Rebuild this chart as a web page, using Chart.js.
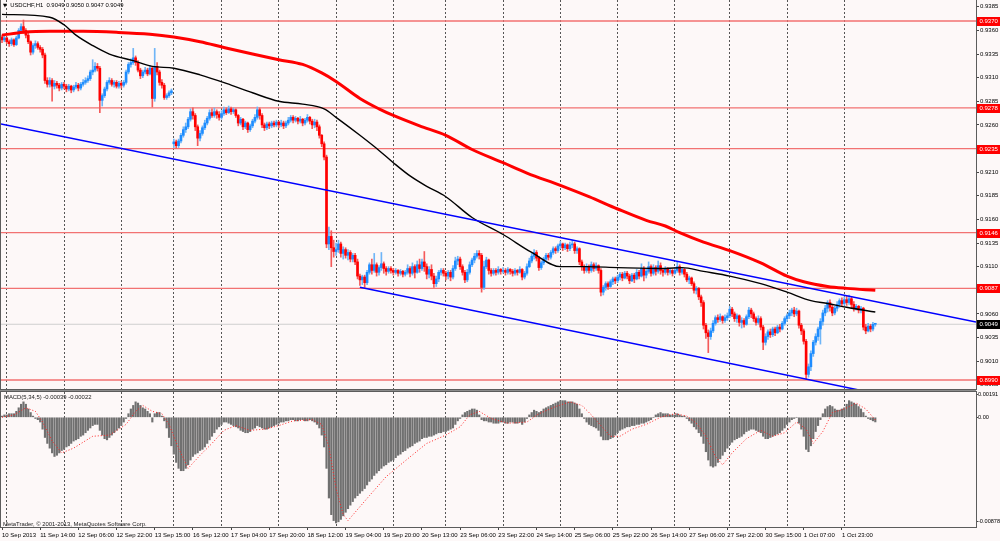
<!DOCTYPE html>
<html>
<head>
<meta charset="utf-8">
<script src="https://cdn.jsdelivr.net/npm/chart.js@4.4.0/dist/chart.umd.min.js"></script>
<style>
  body { margin: 0; background: #fdf8f8; width: 1000px; height: 541px; overflow: hidden; position: relative;
         font-family: "Liberation Sans", Arial, sans-serif; }
  #top { position: absolute; left: 0; top: 0; width: 1000px; height: 390px; }
  #bot { position: absolute; left: 0; top: 390px; width: 1000px; height: 151px; }
  .lbl { position: absolute; font-size: 5.9px; color: #000; white-space: pre; line-height: 8px; }
  .tri { font-family: "DejaVu Sans", sans-serif; font-size: 5px; }
</style>
</head>
<body>
<div id="top"><canvas id="priceChart"></canvas></div>
<div id="bot"><canvas id="macdChart"></canvas></div>
<div class="lbl" style="left:3px;top:1px"><span class="tri">▼</span>  USDCHF,H1  0.9049 0.9050 0.9047 0.9049</div>
<div class="lbl" style="left:4px;top:393px;color:#222">MACD(5,34,5) -0.00039 -0.00022</div>
<div class="lbl" style="left:3px;top:520px;color:#222">MetaTrader, © 2001-2013, MetaQuotes Software Corp.</div>
<script>
// USDCHF H1, 10 Sep 22:00 .. 2 Oct, one entry per bar
const closes = [
  .9350,.9352,.9348,.9346,.9350,.9345,.9352,.9360,.9364,.9360,
  .9355,.9348,.9337,.9344,.9346,.9342,.9340,.9334,.9307,.9303,
  .9307,.9301,.9304,.9302,.9299,.9303,.9301,.9298,.9301,.9297,
  .9300,.9302,.9299,.9303,.9305,.9307,.9309,.9316,.9318,.9322,
  .9320,.9286,.9291,.9298,.9305,.9307,.9303,.9305,.9301,.9304,
  .9302,.9305,.9316,.9324,.9326,.9331,.9326,.9318,.9312,.9316,
  .9318,.9314,.9320,.9288,.9322,.9316,.9305,.9302,.9289,.9291,
  .9294,.9296,.9242,.9238,.9243,.9249,.9255,.9258,.9266,.9274,
  .9270,.9258,.9246,.9251,.9257,.9262,.9267,.9273,.9270,.9274,
  .9271,.9268,.9272,.9276,.9273,.9277,.9274,.9276,.9270,.9262,
  .9266,.9258,.9262,.9255,.9259,.9264,.9268,.9276,.9270,.9260,
  .9257,.9261,.9259,.9262,.9260,.9263,.9260,.9262,.9259,.9262,
  .9265,.9268,.9265,.9267,.9264,.9266,.9262,.9265,.9268,.9264,
  .9260,.9263,.9258,.9249,.9240,.9226,.9134,.9142,.9130,.9126,
  .9128,.9134,.9124,.9128,.9122,.9125,.9118,.9122,.9115,.9100,
  .9096,.9099,.9093,.9104,.9112,.9106,.9112,.9104,.9109,.9113,
  .9108,.9105,.9108,.9106,.9104,.9106,.9103,.9105,.9102,.9104,
  .9108,.9103,.9110,.9104,.9112,.9108,.9115,.9110,.9102,.9107,
  .9100,.9092,.9097,.9104,.9106,.9103,.9100,.9104,.9099,.9108,
  .9116,.9118,.9110,.9104,.9096,.9104,.9112,.9117,.9121,.9124,
  .9122,.9088,.9110,.9117,.9106,.9103,.9106,.9104,.9107,.9105,
  .9106,.9104,.9107,.9105,.9103,.9106,.9104,.9107,.9099,.9103,
  .9110,.9116,.9121,.9125,.9119,.9109,.9114,.9118,.9122,.9120,
  .9125,.9129,.9127,.9132,.9134,.9130,.9133,.9129,.9133,.9134,
  .9127,.9129,.9115,.9110,.9106,.9110,.9106,.9112,.9108,.9111,
  .9106,.9083,.9088,.9092,.9089,.9094,.9097,.9095,.9099,.9102,
  .9098,.9103,.9100,.9095,.9101,.9097,.9104,.9100,.9108,.9101,
  .9105,.9110,.9103,.9109,.9105,.9111,.9106,.9104,.9108,.9104,
  .9106,.9103,.9106,.9110,.9104,.9107,.9102,.9096,.9098,.9092,
  .9085,.9087,.9078,.9072,.9048,.9040,.9036,.9042,.9050,.9056,
  .9054,.9057,.9053,.9056,.9058,.9065,.9060,.9055,.9058,.9051,
  .9053,.9049,.9057,.9064,.9060,.9055,.9051,.9055,.9046,.9030,
  .9036,.9041,.9038,.9044,.9040,.9046,.9044,.9050,.9055,.9058,
  .9061,.9064,.9060,.9063,.9048,.9042,.9031,.8996,.9004,.9018,
  .9030,.9036,.9044,.9052,.9061,.9066,.9072,.9067,.9061,.9066,
  .9070,.9074,.9071,.9075,.9072,.9076,.9070,.9066,.9068,.9064,
  .9066,.9046,.9042,.9047,.9044,.9049,.9049
];
const highs = [
  .9355,.9354,.9353,.9350,.9352,.9351,.9354,.9362,.9367,.9371,
  .9362,.9357,.9349,.9346,.9349,.9348,.9344,.9342,.9336,.9310,
  .9310,.9309,.9307,.9306,.9304,.9305,.9305,.9303,.9303,.9302,
  .9302,.9305,.9304,.9305,.9308,.9310,.9312,.9318,.9329,.9326,
  .9325,.9322,.9293,.9300,.9307,.9310,.9309,.9307,.9307,.9306,
  .9306,.9307,.9318,.9326,.9330,.9341,.9333,.9328,.9320,.9318,
  .9321,.9320,.9323,.9322,.9341,.9326,.9318,.9308,.9304,.9293,
  .9296,.9298,.9245,.9244,.9245,.9251,.9258,.9262,.9268,.9277,
  .9278,.9272,.9260,.9254,.9259,.9265,.9269,.9276,.9277,.9278,
  .9276,.9274,.9275,.9279,.9278,.9280,.9279,.9278,.9277,.9271,
  .9268,.9267,.9264,.9263,.9261,.9266,.9271,.9279,.9278,.9272,
  .9262,.9263,.9263,.9264,.9264,.9265,.9264,.9265,.9264,.9264,
  .9268,.9270,.9270,.9269,.9268,.9269,.9267,.9267,.9271,.9269,
  .9266,.9266,.9265,.9260,.9250,.9242,.9228,.9152,.9148,.9138,
  .9135,.9138,.9136,.9131,.9130,.9128,.9127,.9124,.9124,.9118,
  .9102,.9101,.9101,.9106,.9114,.9118,.9124,.9114,.9111,.9125,
  .9115,.9110,.9110,.9110,.9108,.9108,.9107,.9107,.9106,.9106,
  .9112,.9110,.9114,.9112,.9116,.9118,.9118,.9126,.9113,.9110,
  .9112,.9103,.9100,.9106,.9108,.9108,.9105,.9106,.9106,.9111,
  .9120,.9121,.9120,.9112,.9106,.9107,.9115,.9119,.9124,.9127,
  .9127,.9124,.9116,.9120,.9118,.9108,.9108,.9108,.9110,.9108,
  .9109,.9108,.9109,.9108,.9107,.9108,.9107,.9110,.9108,.9105,
  .9113,.9119,.9124,.9128,.9127,.9121,.9116,.9120,.9124,.9124,
  .9127,.9131,.9131,.9134,.9137,.9135,.9135,.9134,.9136,.9138,
  .9136,.9131,.9130,.9117,.9112,.9113,.9112,.9115,.9114,.9114,
  .9112,.9108,.9090,.9094,.9094,.9096,.9099,.9099,.9101,.9104,
  .9104,.9105,.9105,.9102,.9103,.9103,.9107,.9106,.9113,.9110,
  .9108,.9115,.9112,.9112,.9111,.9116,.9114,.9108,.9110,.9109,
  .9108,.9107,.9109,.9115,.9112,.9109,.9108,.9104,.9100,.9099,
  .9094,.9089,.9088,.9080,.9074,.9050,.9043,.9045,.9053,.9058,
  .9059,.9060,.9058,.9059,.9061,.9068,.9067,.9062,.9060,.9059,
  .9056,.9055,.9059,.9067,.9066,.9062,.9057,.9058,.9057,.9048,
  .9039,.9043,.9044,.9046,.9046,.9048,.9049,.9052,.9057,.9060,
  .9064,.9066,.9067,.9066,.9064,.9050,.9044,.9033,.9007,.9021,
  .9032,.9039,.9046,.9055,.9064,.9069,.9074,.9075,.9070,.9068,
  .9073,.9076,.9077,.9078,.9079,.9080,.9078,.9073,.9070,.9069,
  .9068,.9067,.9049,.9050,.9049,.9051,.9050
];
const lows = [
  .9347,.9348,.9346,.9343,.9344,.9343,.9344,.9351,.9358,.9357,
  .9352,.9346,.9334,.9335,.9341,.9340,.9337,.9331,.9304,.9300,
  .9300,.9285,.9298,.9299,.9296,.9297,.9298,.9295,.9296,.9294,
  .9295,.9298,.9296,.9297,.9301,.9303,.9305,.9307,.9313,.9316,
  .9317,.9273,.9280,.9289,.9296,.9303,.9301,.9300,.9299,.9299,
  .9299,.9300,.9303,.9314,.9321,.9324,.9323,.9316,.9309,.9310,
  .9314,.9312,.9313,.9279,.9285,.9313,.9302,.9299,.9287,.9287,
  .9289,.9292,.9236,.9235,.9236,.9241,.9247,.9252,.9256,.9264,
  .9266,.9254,.9238,.9243,.9249,.9255,.9260,.9265,.9268,.9268,
  .9267,.9265,.9266,.9270,.9271,.9272,.9271,.9272,.9268,.9259,
  .9260,.9255,.9256,.9252,.9253,.9257,.9262,.9266,.9266,.9257,
  .9254,.9255,.9256,.9257,.9258,.9258,.9257,.9258,.9256,.9257,
  .9260,.9263,.9262,.9263,.9261,.9262,.9259,.9260,.9263,.9261,
  .9256,.9257,.9254,.9246,.9237,.9223,.9130,.9128,.9110,.9120,
  .9122,.9125,.9120,.9118,.9119,.9117,.9115,.9115,.9112,.9097,
  .9090,.9091,.9088,.9091,.9102,.9102,.9104,.9100,.9101,.9106,
  .9103,.9101,.9103,.9103,.9101,.9102,.9100,.9101,.9099,.9100,
  .9102,.9099,.9101,.9098,.9103,.9104,.9106,.9105,.9097,.9098,
  .9096,.9088,.9089,.9094,.9101,.9100,.9096,.9097,.9095,.9097,
  .9106,.9112,.9107,.9101,.9093,.9094,.9102,.9110,.9114,.9119,
  .9118,.9083,.9086,.9108,.9102,.9100,.9101,.9101,.9102,.9102,
  .9103,.9101,.9102,.9102,.9100,.9101,.9101,.9103,.9096,.9097,
  .9101,.9109,.9114,.9118,.9116,.9106,.9107,.9112,.9116,.9117,
  .9118,.9123,.9124,.9125,.9129,.9127,.9128,.9126,.9127,.9130,
  .9124,.9124,.9112,.9106,.9103,.9104,.9103,.9104,.9105,.9106,
  .9103,.9079,.9080,.9085,.9086,.9088,.9091,.9092,.9093,.9096,
  .9095,.9097,.9097,.9092,.9094,.9093,.9096,.9097,.9099,.9095,
  .9098,.9103,.9100,.9101,.9101,.9103,.9102,.9100,.9102,.9101,
  .9102,.9100,.9102,.9104,.9101,.9102,.9099,.9094,.9092,.9090,
  .9082,.9081,.9075,.9068,.9044,.9034,.9019,.9033,.9040,.9048,
  .9051,.9052,.9050,.9051,.9053,.9056,.9057,.9052,.9051,.9047,
  .9045,.9046,.9048,.9055,.9056,.9052,.9048,.9049,.9043,.9022,
  .9027,.9033,.9035,.9036,.9037,.9039,.9041,.9043,.9048,.9052,
  .9055,.9058,.9057,.9058,.9045,.9038,.9028,.8991,.8993,.9000,
  .9015,.9027,.9032,.9028,.9048,.9058,.9062,.9063,.9058,.9059,
  .9063,.9067,.9068,.9069,.9069,.9070,.9066,.9063,.9064,.9061,
  .9061,.9043,.9039,.9041,.9041,.9042,.9047
];
// opens follow the previous close except where the market gapped
const gapOpens = [[0, .9353], [72, .9240]];

// moving averages, read at a few bars (black = fast, red = slow)
const blackMaBars = [0, 20, 26, 31, 38, 45, 55, 63, 72, 83, 94, 105, 116, 126, 135, 140, 150, 158, 164, 171, 178, 186, 197, 210, 222, 234, 245, 258, 278, 285, 294, 305, 318, 329, 339, 346, 354, 366];
const blackMaVals = [.9377, .9374, .9366, .9355, .9344, .9335, .9328, .9322, .9320, .9313, .9304, .9294, .9285, .9282, .9277, .9268, .9249, .9233, .9220, .9206, .9195, .9184, .9162, .9144, .9125, .9110, .9110, .9109, .9108, .9109, .9105, .9100, .9092, .9083, .9074, .9071, .9067, .9062];
const redMaBars = [0, 9, 20, 34, 48, 62, 72, 83, 93, 105, 116, 126, 134, 140, 150, 158, 164, 175, 186, 197, 210, 220, 234, 246, 258, 270, 278, 284, 294, 305, 318, 329, 336, 346, 354, 366];
const redMaVals = [.9355, .9358, .9359, .9359, .9358, .9356, .9353, .9348, .9342, .9335, .9329, .9324, .9315, .9306, .9288, .9277, .9270, .9259, .9249, .9234, .9220, .9209, .9196, .9184, .9171, .9159, .9153, .9146, .9136, .9127, .9114, .9100, .9094, .9089, .9087, .9085];

// trend lines: [bar, price] end points
const channelTop = [[-0.42, .92610], [408.2, .90514]];
const channelBottom = [[150, .90881], [360.4, .89788]];

// horizontal levels with red tags
const levels = [.9370, .9278, .9235, .9146, .9087, .8990];

// MACD(5,34,5) histogram, one per bar
const macdHist = [
  .0001,.0002,.0002,.0003,.0003,.0003,.0005,.0008,.0011,.0013,
  .0011,.0007,.0004,.0001,-.0001,-.0002,-.0004,-.0010,-.0017,-.0022,
  -.0026,-.0030,-.0033,-.0032,-.0030,-.0028,-.0027,-.0025,-.0024,-.0022,
  -.0020,-.0019,-.0018,-.0016,-.0015,-.0013,-.0011,-.0009,-.0007,-.0006,
  -.0006,-.0011,-.0015,-.0018,-.0019,-.0017,-.0015,-.0013,-.0011,-.0009,
  -.0007,-.0004,-.0001,.0003,.0007,.0010,.0013,.0012,.0010,.0008,
  .0007,.0005,.0003,-.0004,.0003,.0004,.0004,.0001,-.0003,-.0009,
  -.0017,-.0024,-.0031,-.0038,-.0043,-.0045,-.0045,-.0043,-.0040,-.0036,
  -.0033,-.0031,-.0030,-.0028,-.0027,-.0025,-.0022,-.0019,-.0016,-.0013,
  -.0010,-.0008,-.0006,-.0004,-.0004,-.0005,-.0006,-.0007,-.0008,-.0009,
  -.0011,-.0012,-.0013,-.0013,-.0012,-.0010,-.0009,-.0007,-.0008,-.0009,
  -.0010,-.0010,-.0009,-.0008,-.0007,-.0006,-.0005,-.0004,-.0004,-.0003,
  -.0003,-.0002,-.0002,-.0003,-.0003,-.0002,-.0002,-.0003,-.0003,-.0002,
  -.0003,-.0004,-.0006,-.0009,-.0015,-.0025,-.0043,-.0068,-.0082,-.0087,
  -.0089,-.0088,-.0086,-.0083,-.0080,-.0077,-.0074,-.0071,-.0068,-.0066,
  -.0064,-.0062,-.0060,-.0057,-.0054,-.0052,-.0049,-.0047,-.0045,-.0043,
  -.0041,-.0040,-.0038,-.0037,-.0036,-.0034,-.0032,-.0031,-.0029,-.0028,
  -.0026,-.0025,-.0024,-.0022,-.0021,-.0020,-.0018,-.0017,-.0017,-.0016,
  -.0016,-.0015,-.0014,-.0013,-.0013,-.0012,-.0012,-.0011,-.0010,-.0009,
  -.0006,-.0003,-.0001,.0002,.0004,.0005,.0006,.0007,.0007,.0006,
  .0002,-.0002,-.0003,-.0003,-.0004,-.0004,-.0005,-.0005,-.0005,-.0004,
  -.0004,-.0005,-.0005,-.0004,-.0004,-.0005,-.0005,-.0004,-.0006,-.0004,
  -.0001,.0002,.0004,.0006,.0005,.0004,.0005,.0007,.0008,.0009,
  .0010,.0011,.0012,.0013,.0014,.0014,.0014,.0013,.0013,.0013,
  .0012,.0011,.0007,.0003,-.0001,-.0004,-.0006,-.0007,-.0008,-.0009,
  -.0011,-.0016,-.0019,-.0019,-.0019,-.0018,-.0017,-.0015,-.0013,-.0011,
  -.0010,-.0009,-.0008,-.0008,-.0007,-.0007,-.0006,-.0006,-.0005,-.0005,
  -.0004,-.0003,-.0002,.0000,.0002,.0003,.0004,.0003,.0003,.0003,
  .0002,.0002,.0002,.0003,.0002,.0001,.0001,-.0001,-.0003,-.0005,
  -.0008,-.0010,-.0013,-.0016,-.0022,-.0029,-.0036,-.0041,-.0042,-.0041,
  -.0038,-.0035,-.0032,-.0029,-.0026,-.0023,-.0021,-.0019,-.0018,-.0017,
  -.0016,-.0014,-.0012,-.0011,-.0010,-.0010,-.0011,-.0012,-.0013,-.0016,
  -.0018,-.0018,-.0017,-.0016,-.0015,-.0014,-.0013,-.0011,-.0009,-.0006,
  -.0004,-.0002,-.0001,.0000,-.0005,-.0010,-.0016,-.0027,-.0029,-.0024,
  -.0018,-.0012,-.0007,-.0002,.0003,.0007,.0009,.0010,.0009,.0007,
  .0006,.0006,.0007,.0008,.0011,.0014,.0013,.0012,.0011,.0009,
  .0007,.0004,.0001,-.0001,-.0002,-.0003,-.00039
];
// signal line, read at a few bars
const signalBars = [0, 5, 10, 14, 17, 21, 25, 30, 38, 45, 52, 56, 59, 63, 67, 70, 74, 78, 83, 88, 93, 98, 104, 110, 116, 122, 130, 134, 137, 140, 143, 145, 148, 154, 161, 170, 178, 186, 192, 196, 200, 205, 212, 220, 225, 232, 238, 243, 247, 251, 255, 259, 264, 270, 276, 282, 287, 291, 295, 299, 302, 306, 312, 318, 323, 328, 333, 337, 340, 344, 348, 353, 358, 362, 366];
const signalVals = [.0000, .0002, .0008, .0005, -.0004, -.0020, -.0030, -.0026, -.0016, -.0015, -.0006, .0005, .0010, .0005, .0003, -.0006, -.0026, -.0043, -.0032, -.0022, -.0011, -.0007, -.0011, -.0010, -.0007, -.0003, -.0002, -.0006, -.0025, -.0060, -.0082, -.0087, -.0080, -.0066, -.0050, -.0035, -.0022, -.0015, -.0008, .0002, .0005, -.0001, -.0005, -.0004, .0003, .0009, .0013, .0010, .0002, -.0007, -.0016, -.0016, -.0010, -.0006, .0000, .0003, .0001, -.0005, -.0016, -.0033, -.0040, -.0030, -.0018, -.0011, -.0016, -.0013, -.0004, -.0010, -.0022, -.0012, .0004, .0007, .0012, .0007, -.00022];

// axis ticks
const priceTicks = [.8985, .9010, .9035, .9060, .9085, .9110, .9135, .9160, .9185, .9210, .9235, .9260, .9285, .9310, .9335, .9360, .9385];
const macdTicks = [.00191, 0, -.00878];
const timeLabelBars = [0, 16, 32, 48, 64, 80, 96, 112, 128, 144, 160, 176, 192, 208, 224, 240, 256, 272, 288, 304, 320, 336, 352];
const timeLabels = ['10 Sep 2013', '11 Sep 14:00', '12 Sep 06:00', '12 Sep 22:00', '13 Sep 15:00', '16 Sep 12:00', '17 Sep 04:00', '17 Sep 20:00', '18 Sep 12:00', '19 Sep 04:00', '19 Sep 20:00', '20 Sep 13:00', '23 Sep 06:00', '23 Sep 22:00', '24 Sep 14:00', '25 Sep 06:00', '25 Sep 22:00', '26 Sep 14:00', '27 Sep 06:00', '27 Sep 22:00', '30 Sep 15:00', '1 Oct 07:00', '1 Oct 23:00'];
const dayStarts = [2, 26, 50, 72, 92, 116, 140, 164, 186, 210, 234, 258, 282, 305, 329, 353];

// view range
const xMin = -0.42, xMax = 408.2;
const priceMin = 0.89805, priceMax = 0.93922;
const macdMin = -0.00924, macdMax = 0.00213;

const FONT = '"Liberation Sans", Arial, sans-serif';
Chart.defaults.font.family = FONT;
Chart.defaults.font.size = 6;
Chart.defaults.color = '#000';

const opens = closes.map((c, i) => {
  const g = gapOpens.find(p => p[0] === i);
  return g ? g[1] : closes[i - 1];
});
const isUp = closes.map((c, i) => c >= opens[i]);
const lastPrice = closes[closes.length - 1];

function noPad(s) { s.paddingTop = 0; s.paddingBottom = 0; s.paddingLeft = 0; s.paddingRight = 0; }

const framePlugin = {
  id: 'frame',
  afterDraw(chart) {
    const { ctx, chartArea: a } = chart;
    ctx.save();
    ctx.strokeStyle = '#5c5c5c';
    ctx.lineWidth = 1;
    ctx.strokeRect(a.left - 0.5, a.top - 0.5, a.right - a.left + 1, a.bottom - a.top + 1);
    ctx.restore();
  }
};

const tagPlugin = {
  id: 'tags',
  afterDraw(chart) {
    const { ctx } = chart;
    const y = chart.scales.y;
    const x0 = chart.chartArea.right + 1;
    ctx.save();
    ctx.font = '6px ' + FONT;
    ctx.textBaseline = 'middle';
    const tag = (v, bg) => {
      const py = Math.round(y.getPixelForValue(v));
      ctx.fillStyle = bg;
      ctx.fillRect(x0, py - 4, 23, 9);
      ctx.fillStyle = '#fff';
      ctx.fillText(v.toFixed(4), x0 + 2.5, py + 0.5);
    };
    levels.forEach(v => tag(v, '#ff0000'));
    tag(lastPrice, '#000');
    ctx.restore();
  }
};

const lineSet = (pts, color, width, order, extra) => Object.assign({
  type: 'line', data: pts, borderColor: color, borderWidth: width,
  pointRadius: 0, fill: false, order: order
}, extra || {});

const priceDatasets = [];
priceDatasets.push(lineSet(channelTop.map(p => ({ x: p[0], y: p[1] })), '#0000ff', 1.5, 0));
priceDatasets.push(lineSet(channelBottom.map(p => ({ x: p[0], y: p[1] })), '#0000ff', 1.5, 0));
priceDatasets.push(lineSet(blackMaBars.map((b, i) => ({ x: b, y: blackMaVals[i] })), '#000000', 1.4, 1, { cubicInterpolationMode: 'monotone' }));
priceDatasets.push(lineSet(redMaBars.map((b, i) => ({ x: b, y: redMaVals[i] })), '#ff0000', 3, 1, { cubicInterpolationMode: 'monotone' }));
levels.forEach(v => priceDatasets.push(lineSet([{ x: xMin, y: v }, { x: xMax, y: v }], '#f27272', 1.3, 5)));
priceDatasets.push(lineSet([{ x: xMin, y: lastPrice }, { x: xMax, y: lastPrice }], '#cfcfcf', 1, 5));
priceDatasets.push({
  type: 'bar', grouped: false, barThickness: 1, order: 3,
  data: closes.map((c, i) => ({ x: i, y: [lows[i], highs[i]] })),
  backgroundColor: isUp.map(u => u ? '#6fb5f7' : '#f45a5a')
});
priceDatasets.push({
  type: 'bar', grouped: false, barThickness: 2, minBarLength: 1, order: 2,
  data: closes.map((c, i) => ({ x: i, y: [opens[i], c] })),
  backgroundColor: isUp.map(u => u ? '#1e8cff' : '#ff0000')
});

new Chart(document.getElementById('priceChart'), {
  type: 'bar',
  data: { datasets: priceDatasets },
  options: {
    responsive: true, maintainAspectRatio: false, animation: false,
    layout: { padding: { left: 1, top: 0, right: 0, bottom: 1 } },
    plugins: { legend: { display: false }, tooltip: { enabled: false } },
    scales: {
      x: {
        type: 'linear', min: xMin, max: xMax, offset: false,
        afterBuildTicks: s => { s.ticks = dayStarts.map(v => ({ value: v })); },
        ticks: { display: false },
        grid: { color: '#555', drawTicks: false, offset: false },
        border: { display: false, dash: [2, 2] },
        afterFit: s => { s.height = 0; noPad(s); }
      },
      y: {
        position: 'right', min: priceMin, max: priceMax,
        afterBuildTicks: s => { s.ticks = priceTicks.map(v => ({ value: v })); },
        ticks: { callback: v => v.toFixed(4), padding: 1, crossAlign: 'near' },
        grid: { drawOnChartArea: false, tickLength: 3, color: '#444' },
        border: { color: '#444' },
        afterFit: s => { s.width = 24; noPad(s); }
      }
    }
  },
  plugins: [framePlugin, tagPlugin]
});

new Chart(document.getElementById('macdChart'), {
  type: 'bar',
  data: {
    datasets: [
      lineSet(signalBars.map((b, i) => ({ x: b, y: signalVals[i] })), '#ff2020', 1, 0, { borderDash: [1, 2] }),
      {
        type: 'bar', grouped: false, barThickness: 1.5, order: 1,
        data: macdHist.map((v, i) => ({ x: i, y: v })),
        backgroundColor: '#707070'
      }
    ]
  },
  options: {
    responsive: true, maintainAspectRatio: false, animation: false,
    layout: { padding: { left: 1, top: 2, right: 0, bottom: 0 } },
    plugins: { legend: { display: false }, tooltip: { enabled: false } },
    scales: {
      x: {
        type: 'linear', min: xMin, max: xMax, offset: false,
        afterBuildTicks: s => { s.ticks = timeLabelBars.map(v => ({ value: v })); },
        ticks: { callback: (v, i) => timeLabels[i], align: 'start', autoSkip: false, maxRotation: 0, padding: 2 },
        grid: { drawOnChartArea: false, tickLength: 3, color: '#444', offset: false },
        border: { color: '#444' },
        afterFit: s => { s.height = 14; noPad(s); }
      },
      xg: {
        type: 'linear', position: 'bottom', min: xMin, max: xMax, offset: false,
        afterBuildTicks: s => { s.ticks = dayStarts.map(v => ({ value: v })); },
        ticks: { display: false },
        grid: { color: '#555', drawTicks: false, offset: false },
        border: { display: false, dash: [2, 2] },
        afterFit: s => { s.height = 0; noPad(s); }
      },
      y: {
        position: 'right', min: macdMin, max: macdMax,
        afterBuildTicks: s => { s.ticks = macdTicks.map(v => ({ value: v })); },
        ticks: { callback: v => (v === 0 ? '0.00' : v.toFixed(5)), padding: 0, crossAlign: 'near', font: { size: 5.6 } },
        grid: { drawOnChartArea: false, tickLength: 2, color: '#444' },
        border: { color: '#444' },
        afterFit: s => { s.width = 24; noPad(s); }
      }
    }
  },
  plugins: [framePlugin, {
    id: 'separator',
    afterDraw(chart) {
      const ctx = chart.ctx;
      ctx.save();
      ctx.fillStyle = '#8c8c8c';
      ctx.fillRect(0, 0, chart.chartArea.right, 1);
      ctx.restore();
    }
  }]
});
</script>
</body>
</html>
